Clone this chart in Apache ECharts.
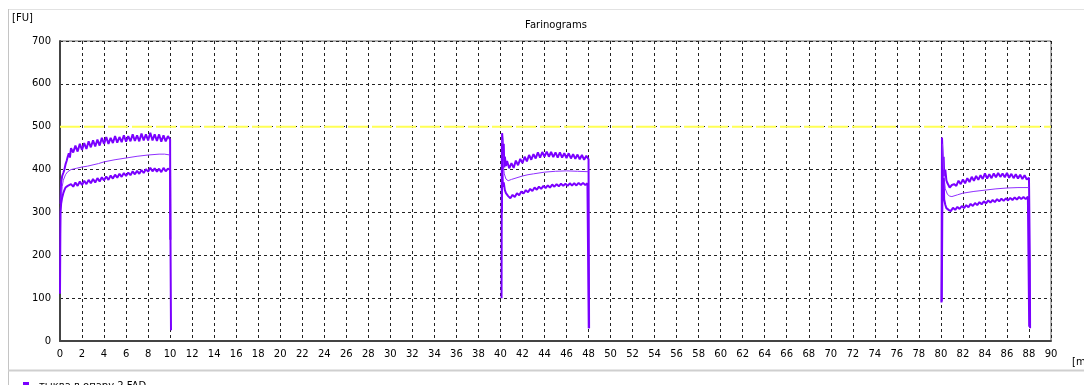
<!DOCTYPE html>
<html><head><meta charset="utf-8">
<script src="https://cdn.jsdelivr.net/npm/echarts@6/dist/echarts.min.js"></script>
<style>html,body{margin:0;padding:0;background:#fff;}#c{width:1084px;height:385px;}</style>
</head><body><div id="c"></div>
<script>
// ---- data (minutes, FU) ----
var title = 'Farinograms';
var yUnit = '[FU]';
var xUnit = '[min]';
var seriesName = 'тыква в опару 2 FAD';
var xTicks = {min: 0, max: 90, step: 2};
var yTicks = {min: 0, max: 700, step: 100};
var consistencyLine = [[0, 500], [90, 500]];

var upper1 = [[0.05,320],[0.1,370],[0.2,385],[0.3,392],[0.4,400],[0.5,412],[0.6,420],[0.7,430],[0.8,438],[0.9,428],[1.0,450],[1.2,440],[1.4,456],[1.6,442],[1.8,460],[2.0,446],[2.2,462],[2.4,448],[2.6,466],[2.8,452],[3.0,468],[3.2,454],[3.4,470],[3.6,456],[3.8,474],[4.0,460],[4.2,476],[4.4,460],[4.6,474],[4.8,462],[5.0,478],[5.2,463],[5.4,476],[5.6,464],[5.8,480],[6.0,465],[6.2,478],[6.4,466],[6.6,482],[6.8,467],[7.0,480],[7.2,466],[7.4,484],[7.6,468],[7.8,482],[8.0,468],[8.2,486],[8.4,468],[8.6,482],[8.8,467],[9.0,482],[9.2,465],[9.4,480],[9.6,466],[9.8,478],[10.0,470],[10.02,236]];
var middle1 = [[0.1,330],[0.2,360],[0.3,375],[0.5,388],[0.7,395],[1.0,400],[1.5,403],[2.0,406],[2.5,408],[3.0,411],[3.5,414],[4.0,418],[5.0,423],[6.0,427],[7.0,431],[8.0,434],[9.0,436],[9.5,436],[10.0,434]];
var lower1 = [[0.0,110],[0.03,250],[0.05,300],[0.1,320],[0.2,335],[0.3,345],[0.4,352],[0.5,358],[0.7,362],[1.0,366],[1.2,360],[1.4,370],[1.6,362],[1.8,372],[2.0,364],[2.2,374],[2.4,366],[2.6,376],[2.8,368],[3.0,378],[3.2,370],[3.4,380],[3.6,372],[3.8,382],[4.0,375],[4.2,384],[4.4,376],[4.6,386],[4.8,379],[5.0,388],[5.2,381],[5.4,390],[5.6,383],[5.8,392],[6.0,385],[6.2,393],[6.4,387],[6.6,396],[6.8,389],[7.0,397],[7.2,390],[7.4,399],[7.6,392],[7.8,401],[8.0,395],[8.2,404],[8.4,396],[8.6,403],[8.8,395],[9.0,402],[9.2,394],[9.4,404],[9.6,396],[9.8,402],[10.0,399],[10.08,25]];

var upper2 = [[40.13,300],[40.15,485],[40.2,470],[40.25,420],[40.3,460],[40.35,405],[40.4,430],[40.5,408],[40.6,420],[40.8,403],[41.0,415],[41.2,404],[41.4,421],[41.6,410],[41.8,425],[42.0,415],[42.2,430],[42.4,419],[42.6,434],[42.8,423],[43.0,436],[43.2,426],[43.4,440],[43.6,428],[43.8,441],[44.0,430],[44.2,442],[44.4,430],[44.6,441],[44.8,429],[45.0,440],[45.2,428],[45.4,440],[45.6,428],[45.8,438],[46.0,427],[46.2,438],[46.4,426],[46.6,436],[46.8,425],[47.0,435],[47.2,424],[47.4,434],[47.6,423],[47.8,432],[48.0,424],[48.05,30]];
var middle2 = [[40.15,470],[40.2,440],[40.25,410],[40.35,390],[40.5,378],[40.7,374],[41.0,377],[41.5,381],[42.0,385],[42.5,388],[43.0,390],[44.0,394],[45.0,396],[46.0,397],[47.0,396],[48.0,395]];
var lower2 = [[40.1,100],[40.13,460],[40.18,400],[40.22,360],[40.3,370],[40.4,352],[40.5,345],[40.7,338],[40.9,333],[41.1,341],[41.3,336],[41.5,345],[41.7,340],[41.9,349],[42.1,344],[42.3,352],[42.5,347],[42.7,355],[42.9,350],[43.1,358],[43.3,353],[43.5,360],[43.7,355],[43.9,362],[44.1,357],[44.3,363],[44.5,358],[44.7,365],[44.9,360],[45.1,366],[45.3,361],[45.5,367],[45.7,362],[45.9,367],[46.1,362],[46.3,368],[46.5,363],[46.7,368],[46.9,363],[47.1,369],[47.3,364],[47.5,369],[47.7,364],[47.9,368],[48.0,365],[48.02,30]];

var upper3 = [[80.05,90],[80.1,475],[80.15,440],[80.2,400],[80.25,430],[80.3,385],[80.4,400],[80.5,375],[80.6,368],[80.8,358],[81.0,364],[81.2,366],[81.4,362],[81.6,374],[81.8,366],[82.0,377],[82.2,368],[82.4,380],[82.6,371],[82.8,383],[83.0,374],[83.2,385],[83.4,376],[83.6,387],[83.8,378],[84.0,391],[84.2,379],[84.4,389],[84.6,380],[84.8,391],[85.0,382],[85.2,392],[85.4,383],[85.6,391],[85.8,382],[86.0,392],[86.2,381],[86.4,390],[86.6,380],[86.8,389],[87.0,379],[87.2,388],[87.4,378],[87.6,387],[87.8,377],[88.0,381],[88.08,182],[88.1,30]];
var middle3 = [[80.15,460],[80.2,420],[80.3,380],[80.4,355],[80.6,342],[80.8,338],[81.0,337],[81.5,341],[82.0,345],[83.0,349],[84.0,352],[85.0,355],[86.0,357],[87.0,358],[88.0,358]];
var lower3 = [[80.08,92],[80.12,260],[80.15,400],[80.2,340],[80.25,380],[80.3,330],[80.4,318],[80.5,310],[80.7,306],[80.9,303],[81.1,311],[81.3,306],[81.5,313],[81.7,308],[81.9,315],[82.1,310],[82.3,317],[82.5,312],[82.7,320],[82.9,315],[83.1,322],[83.3,317],[83.5,324],[83.7,319],[83.9,326],[84.1,321],[84.3,328],[84.5,323],[84.7,329],[84.9,324],[85.1,331],[85.3,326],[85.5,332],[85.7,327],[85.9,333],[86.1,328],[86.3,334],[86.5,329],[86.7,335],[86.9,330],[87.1,336],[87.3,331],[87.5,336],[87.7,331],[87.9,337],[88.0,334],[88.02,33]];

// ---- chart ----
var chart = echarts.init(document.getElementById('c'), null, {renderer: 'canvas'});
var violet = '#7a00ff';
var violetLight = '#9030ff';
var curves = [
  {d: upper1, w: 2, c: violet}, {d: middle1, w: 1, c: violetLight}, {d: lower1, w: 2, c: violet},
  {d: upper2, w: 2, c: violet}, {d: middle2, w: 1, c: violetLight}, {d: lower2, w: 2, c: violet},
  {d: upper3, w: 2, c: violet}, {d: middle3, w: 1, c: violetLight}, {d: lower3, w: 2, c: violet}
];
var series = [{
  name: 'consistency', type: 'line', data: consistencyLine, showSymbol: false, silent: true,
  lineStyle: {color: '#ffff55', width: 2, type: [20, 4]}, z: 3
}];
curves.forEach(function (cv, i) {
  series.push({
    name: i === 0 ? seriesName : 'c' + i, type: 'line', data: cv.d, showSymbol: false, silent: true,
    color: violet, lineStyle: {color: cv.c, width: cv.w}, z: 4
  });
});
var lbl = {fontFamily: 'DejaVu Sans', fontSize: 10, color: '#000'};
chart.setOption({
  animation: false,
  backgroundColor: '#fff',
  title: {text: title, left: 551, top: 15, textAlign: 'center',
    textStyle: {fontFamily: 'DejaVu Sans', fontSize: 10, fontWeight: 'normal', color: '#000'}},
  legend: {
    data: [{name: seriesName, icon: 'path://M0,3.5H5V0H11V3.5H16V4.5H11V8H5V4.5H0Z'}],
    left: 13, top: 376, itemWidth: 16, itemHeight: 8, itemGap: 6,
    textStyle: {fontFamily: 'DejaVu Sans', fontSize: 10, color: '#000'}
  },
  grid: {left: 60, right: 33, top: 41, bottom: 44, show: true, borderColor: '#666', borderWidth: 1},
  xAxis: {
    type: 'value', min: xTicks.min, max: xTicks.max, interval: xTicks.step,
    axisLine: {show: true, lineStyle: {color: '#444', width: 2}},
    axisTick: {show: false},
    axisLabel: Object.assign({margin: 8}, lbl),
    splitLine: {show: true, lineStyle: {color: '#222', width: 1, type: [3, 3]}}
  },
  yAxis: {
    type: 'value', min: yTicks.min, max: yTicks.max, interval: yTicks.step,
    axisLine: {show: true, lineStyle: {color: '#444', width: 2}},
    axisTick: {show: false},
    axisLabel: Object.assign({margin: 9}, lbl),
    splitLine: {show: true, lineStyle: {color: '#222', width: 1, type: [3, 3]}}
  },
  graphic: [
    {type: 'line', shape: {x1: 8, y1: 9.5, x2: 1084, y2: 9.5}, style: {stroke: '#e2e2e2', lineWidth: 1}},
    {type: 'line', shape: {x1: 8.5, y1: 9, x2: 8.5, y2: 385}, style: {stroke: '#c4c4c4', lineWidth: 1}},
    {type: 'line', shape: {x1: 8, y1: 370.5, x2: 1084, y2: 370.5}, style: {stroke: '#cfcfcf', lineWidth: 2}},
    {type: 'text', left: 12, top: 13, style: {text: yUnit, fontFamily: 'DejaVu Sans', fontSize: 10, fill: '#000'}},
    {type: 'text', left: 1072, top: 357, style: {text: xUnit, fontFamily: 'DejaVu Sans', fontSize: 10, fill: '#000'}}
  ],
  series: series
});
</script></body></html>
